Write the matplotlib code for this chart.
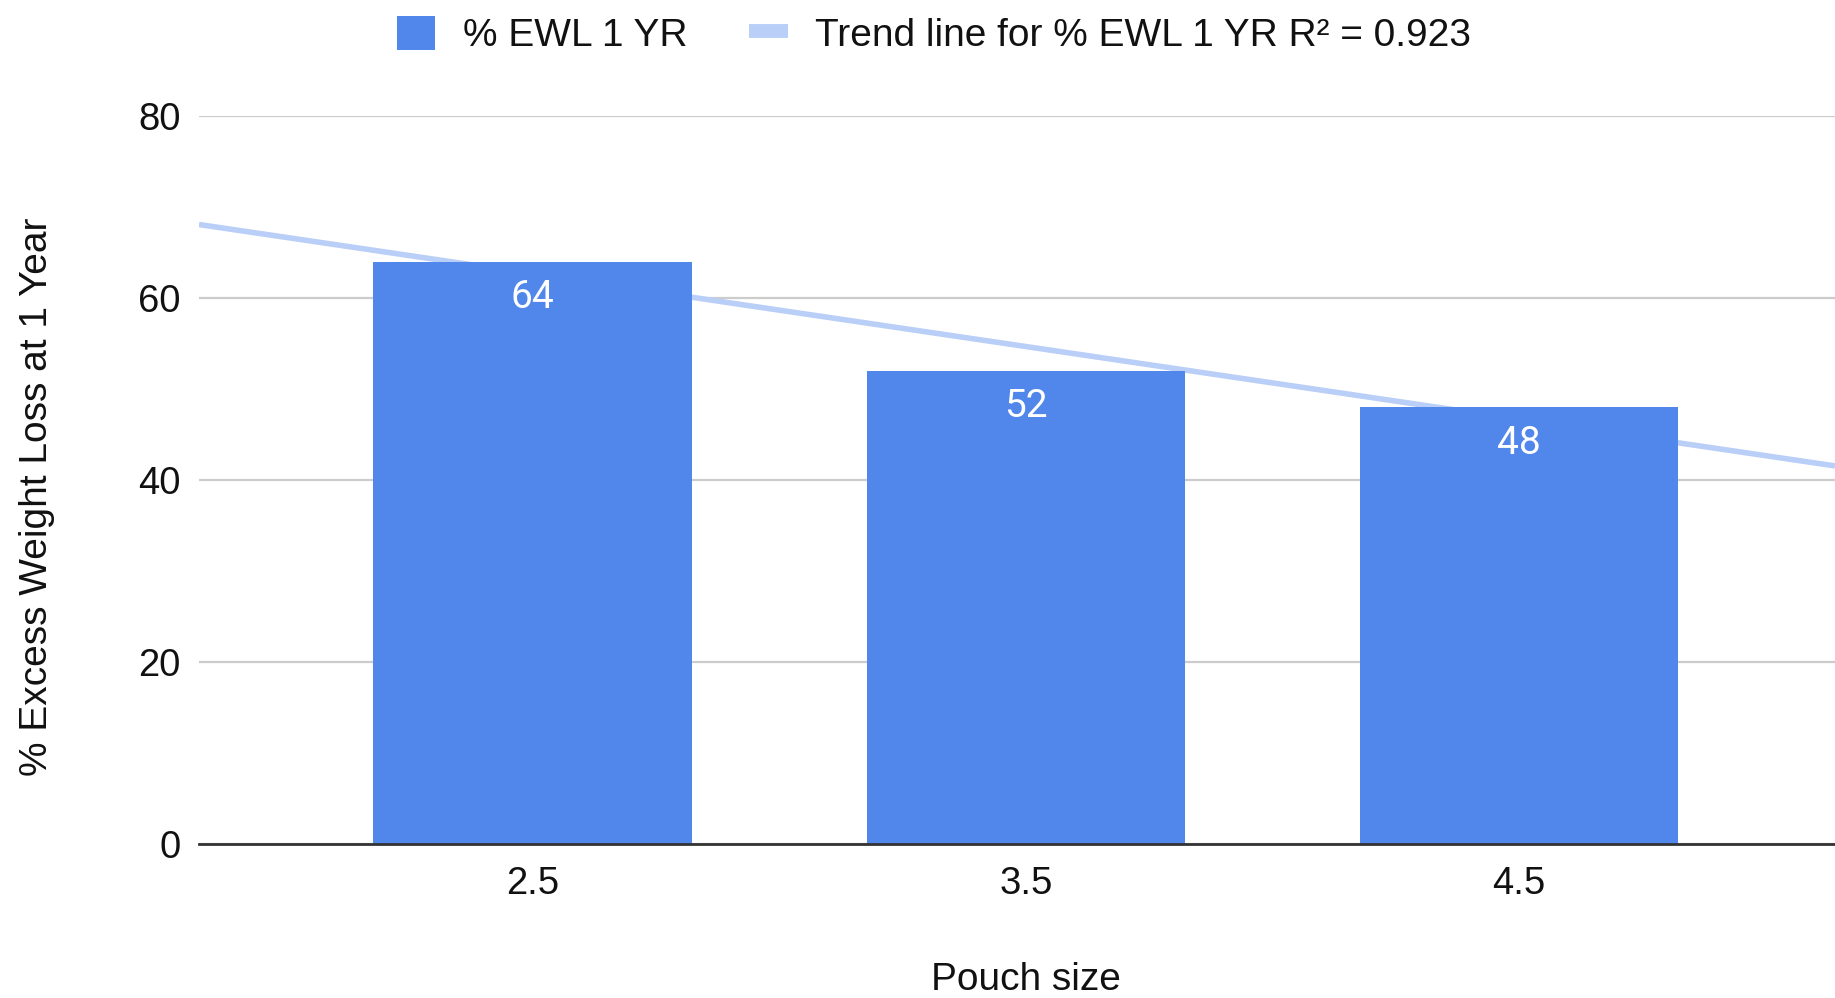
import numpy as np
import matplotlib
matplotlib.use("Agg")
import matplotlib.pyplot as plt
from matplotlib.patches import Patch
from matplotlib.lines import Line2D

# data
pouch_size = [2.5, 3.5, 4.5]
ewl_1yr = [64, 52, 48]
y_ticks = [0, 20, 40, 60, 80]

bar_color = "#5186EB"
trend_color = "#B9CFF7"

plt.rcParams["font.family"] = ["Liberation Sans", "DejaVu Sans"]

fig = plt.figure(figsize=(18.35, 9.98), dpi=100)
ax = fig.add_axes([199 / 1835, 1 - 844 / 998, 1 - 199 / 1835, (844 - 116) / 998])

x = np.array(pouch_size)
y = np.array(ewl_1yr)

# linear trend line and R^2
slope, intercept = np.polyfit(x, y, 1)
fit = slope * x + intercept
r2 = 1 - np.sum((y - fit) ** 2) / np.sum((y - y.mean()) ** 2)

xmin, xmax = 1.824, 5.14
xs = np.array([xmin, xmax])
ax.plot(xs, slope * xs + intercept, color=trend_color, lw=4, zorder=2,
        solid_capstyle="butt")

bars = ax.bar(x, y, width=0.645, color=bar_color, zorder=3)
for xi, v in zip(x, y):
    ax.annotate(str(v), (xi, v), xytext=(0, -26), textcoords="offset points",
                ha="center", va="center", color="white", fontsize=28,
                family=["Roboto", "DejaVu Sans"], zorder=4)

ax.set_xlim(xmin, xmax)
ax.set_ylim(0, 80)
ax.set_xticks(pouch_size)
ax.set_xticklabels([str(p) for p in pouch_size])
ax.set_yticks(y_ticks)
ax.tick_params(axis="both", length=0, labelsize=27.5, labelcolor="#111111")
ax.tick_params(axis="y", pad=13)
ax.tick_params(axis="x", pad=16)

ax.yaxis.grid(True, color="#CCCCCC", lw=1.6, zorder=0)
ax.set_axisbelow(True)
for s in ["top", "right", "left"]:
    ax.spines[s].set_visible(False)
ax.spines["bottom"].set_color("#333333")
ax.spines["bottom"].set_linewidth(2)
ax.spines["bottom"].set_zorder(5)

fig.text(37 / 1835, 1 - 497 / 998, "% Excess Weight Loss at 1 Year",
         rotation=90, ha="center", va="center", fontsize=28, color="#111111")
fig.text(1026 / 1835, 1 - 980 / 998, "Pouch size",
         ha="center", va="center", fontsize=28, color="#111111")

handles = [
    Patch(facecolor=bar_color, edgecolor="none"),
    Line2D([0], [0], color=trend_color, lw=10, solid_capstyle="butt"),
]
labels = ["% EWL 1 YR", "Trend line for % EWL 1 YR R² = {:.3f}".format(r2)]
fig.legend(handles, labels, loc="center", bbox_to_anchor=(934 / 1835, 1 - 35 / 998),
           ncol=2, frameon=False, fontsize=28, handlelength=1.0, handleheight=1.0,
           handletextpad=0.7, columnspacing=1.6, labelcolor="#111111")

fig.savefig("out.png", dpi=100)
